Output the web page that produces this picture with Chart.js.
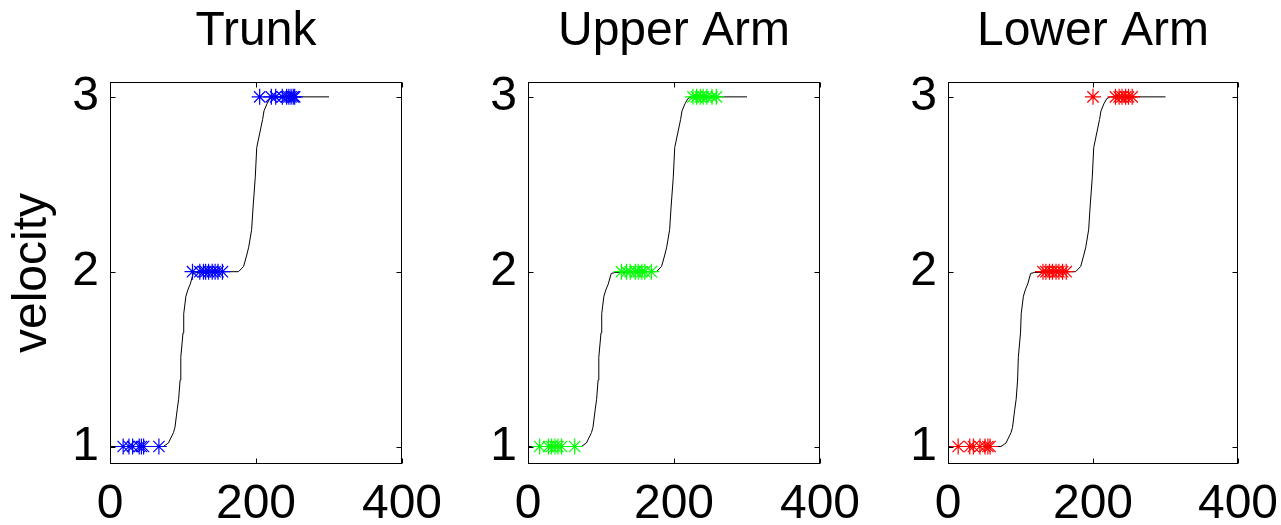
<!DOCTYPE html>
<html>
<head>
<meta charset="utf-8">
<script src="https://cdn.jsdelivr.net/npm/chart.js@4.4.1/dist/chart.umd.min.js"></script>
<style>
  body { margin: 0; background: #fff; width: 1281px; height: 525px; overflow: hidden; position: relative; }
  .panel { position: absolute; top: 0; height: 525px; }
</style>
</head>
<body>
<div class="panel" id="p1" style="left:0px;width:452px"><canvas id="c1"></canvas></div>
<div class="panel" id="p2" style="left:418px;width:452px"><canvas id="c2"></canvas></div>
<div class="panel" id="p3" style="left:838px;width:443px"><canvas id="c3"></canvas></div>
<script>
// ticks
const xTicks = [0, 200, 400];
const yTicks = [1, 2, 3];

// reference velocity curve (same in all panels)
const curveX = [0, 73, 80, 87, 89, 92, 94, 96, 97, 100, 101, 104, 107, 110, 114, 119, 150, 176, 183, 187, 190, 194, 196, 199, 201, 206, 209, 211, 215, 219, 224, 300];
const curveY = [1, 1, 1.02, 1.08, 1.11, 1.21, 1.27, 1.38, 1.51, 1.65, 1.76, 1.86, 1.9, 1.93, 1.99, 1.995, 2, 2, 2.03, 2.09, 2.14, 2.24, 2.37, 2.54, 2.71, 2.81, 2.87, 2.92, 2.96, 2.99, 3, 3];

// detected samples per level (x positions)
const trunk1 = [18, 26, 31, 40, 43, 46, 67];
const trunk2 = [113, 123, 128, 131, 135, 140, 144, 148, 154];
const trunk3 = [205, 221, 227, 236, 242, 245, 248, 251, 253];
const upper1 = [16, 28, 32, 37, 41, 46, 64];
const upper2 = [128, 135, 140, 147, 151, 156, 160, 169];
const upper3 = [226, 231, 236, 240, 245, 252, 258];
const lower1 = [14, 30, 35, 44, 51, 55, 58];
const lower2 = [131, 135, 140, 144, 149, 153, 158, 163];
const lower3 = [200, 231, 236, 240, 245, 249, 254];

const FONT = "'Liberation Sans', Arial, Helvetica, sans-serif";

function levelPoints(levels) {
    let pts = [];
    levels.forEach(function (xs, i) {
        xs.forEach(function (x) { pts.push({ x: x, y: yTicks[i] }); });
    });
    return pts;
}

// box, inward tick marks and title centred over the axes (matlab style)
const boxTicks = {
    id: 'boxTicks',
    afterDatasetsDraw(chart, args, opts) {
        const ctx = chart.ctx;
        const a = chart.chartArea;
        const xs = chart.scales.x, ys = chart.scales.y;
        const L = Math.round(a.left) + 0.5, R = Math.round(a.right) - 0.5;
        const T = Math.round(a.top) + 0.5, B = Math.round(a.bottom) - 0.5;
        ctx.save();
        ctx.strokeStyle = '#000';
        ctx.lineWidth = 1;
        ctx.strokeRect(L, T, R - L, B - T);
        ctx.beginPath();
        xTicks.forEach(function (v) {
            const px = Math.round(xs.getPixelForValue(v)) + 0.5;
            ctx.moveTo(px, B); ctx.lineTo(px, B - 5);
            ctx.moveTo(px, T); ctx.lineTo(px, T + 5);
        });
        yTicks.forEach(function (v) {
            const py = Math.round(ys.getPixelForValue(v)) + 0.5;
            ctx.moveTo(L, py); ctx.lineTo(L + 5, py);
            ctx.moveTo(R, py); ctx.lineTo(R - 5, py);
        });
        ctx.stroke();

        ctx.fillStyle = '#000';
        ctx.font = '48px ' + FONT;
        ctx.textAlign = 'center';
        ctx.textBaseline = 'alphabetic';
        ctx.fillText(opts.text, (a.left + a.right) / 2, 45);
        ctx.restore();
    }
};

function makePanel(id, title, color, levels, rightPad, showYTitle) {
    const curve = curveX.map(function (x, i) { return { x: x, y: curveY[i] }; });
    new Chart(document.getElementById(id), {
        type: 'scatter',
        data: {
            datasets: [
                {
                    data: levelPoints(levels),
                    pointStyle: 'star',
                    pointRadius: 8,
                    borderColor: color,
                    backgroundColor: color,
                    borderWidth: 1.2,
                    order: 0
                },
                {
                    data: curve,
                    showLine: true,
                    borderColor: '#000',
                    borderWidth: 1,
                    pointRadius: 0,
                    tension: 0,
                    order: 1
                }
            ]
        },
        options: {
            responsive: true,
            maintainAspectRatio: false,
            animation: false,
            layout: { padding: { left: 0, right: rightPad, top: 82, bottom: 0 } },
            plugins: {
                legend: { display: false },
                tooltip: { enabled: false },
                title: { display: false },
                boxTicks: { text: title }
            },
            scales: {
                x: {
                    type: 'linear',
                    min: 0,
                    max: 400,
                    grid: { display: false, drawTicks: false },
                    border: { display: false },
                    ticks: { color: '#000', padding: 12, maxRotation: 0, font: { family: FONT, size: 48 } },
                    afterBuildTicks: function (s) { s.ticks = xTicks.map(function (v) { return { value: v }; }); },
                    afterFit: function (s) { s.height = 61; s.paddingLeft = 0; s.paddingRight = 0; }
                },
                y: {
                    type: 'linear',
                    min: 0.9,
                    max: 3.085,
                    grid: { display: false, drawTicks: false },
                    border: { display: false },
                    ticks: { color: '#000', padding: 11, font: { family: FONT, size: 48 } },
                    title: {
                        display: showYTitle,
                        text: 'velocity',
                        color: '#000',
                        font: { family: FONT, size: 48, lineHeight: 1 },
                        padding: { top: 9, bottom: 0 }
                    },
                    afterBuildTicks: function (s) { s.ticks = yTicks.map(function (v) { return { value: v }; }); },
                    afterFit: function (s) { s.width = 110; s.paddingTop = 0; s.paddingBottom = 0; }
                }
            }
        },
        plugins: [boxTicks]
    });
}

makePanel('c1', 'Trunk', '#0000ff', [trunk1, trunk2, trunk3], 50, true);
makePanel('c2', 'Upper Arm', '#00ff00', [upper1, upper2, upper3], 50, false);
makePanel('c3', 'Lower Arm', '#ff0000', [lower1, lower2, lower3], 43, false);
</script>
</body>
</html>
